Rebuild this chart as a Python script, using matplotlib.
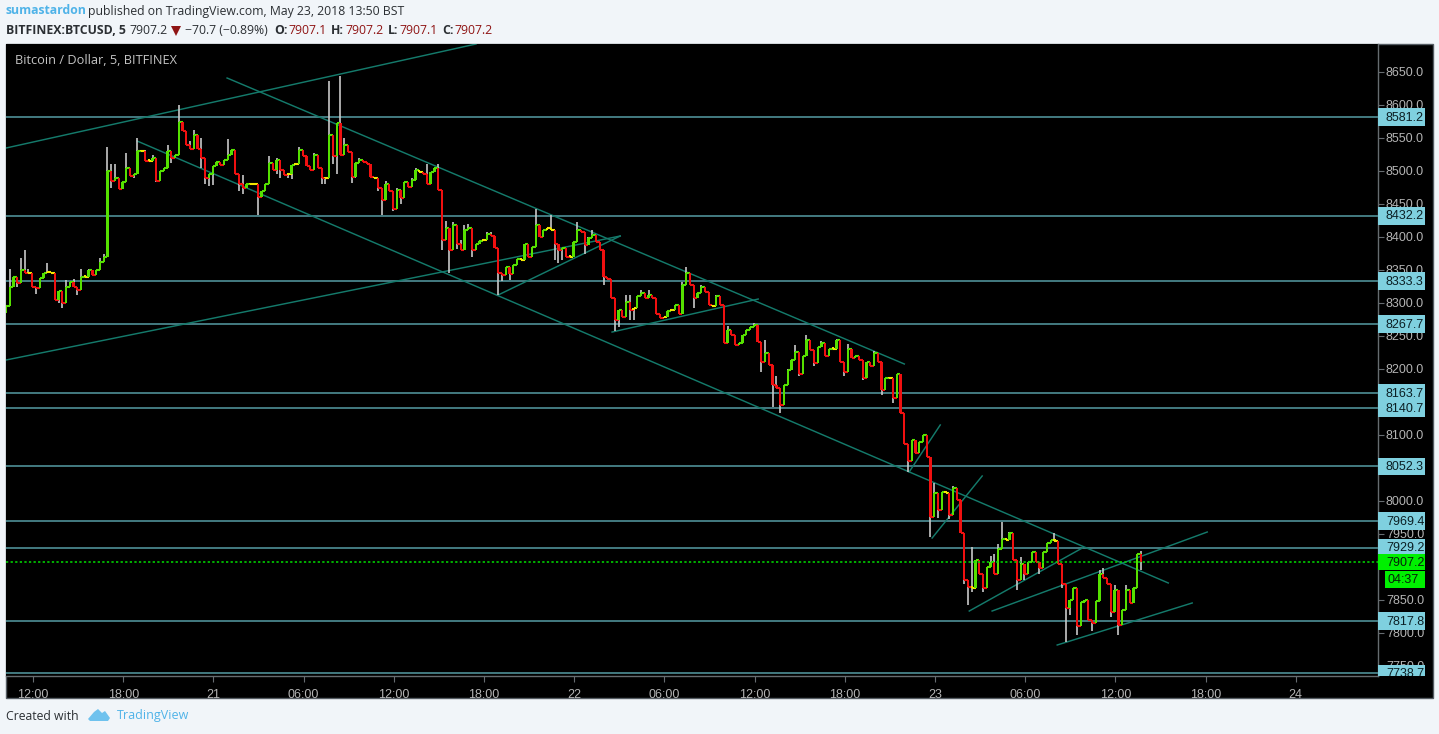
import matplotlib
matplotlib.use("Agg")
import matplotlib.pyplot as plt
import numpy as np
from matplotlib.patches import Rectangle, Polygon
from matplotlib.transforms import IdentityTransform, blended_transform_factory

W, H = 1439, 734

# precio de cierre cada 15 minutos
closes = [
    8296, 8325, 8340, 8330, 8350, 8345, 8345, 8325, 8322, 8338,
    8345, 8347, 8345, 8305, 8318, 8300, 8325, 8332, 8325, 8320,
    8340, 8340, 8350, 8342, 8350, 8362, 8370, 8500, 8485, 8490,
    8473, 8483, 8505, 8492, 8495, 8530, 8530, 8515, 8515, 8520,
    8485, 8500, 8505, 8530, 8520, 8525, 8575, 8560, 8540, 8534,
    8555, 8534, 8519, 8489, 8496, 8507, 8514, 8509, 8517, 8524,
    8532, 8496, 8481, 8474, 8480, 8481, 8480, 8460, 8469, 8481,
    8512, 8501, 8516, 8501, 8494, 8496, 8509, 8510, 8532, 8522,
    8507, 8501, 8524, 8504, 8489, 8489, 8555, 8522, 8572, 8525,
    8540, 8529, 8491, 8512, 8517, 8514, 8511, 8491, 8489, 8474,
    8456, 8481, 8469, 8443, 8471, 8459, 8484, 8476, 8486, 8501,
    8499, 8496, 8481, 8499, 8504, 8471, 8395, 8413, 8380, 8418,
    8390, 8380, 8410, 8413, 8380, 8390, 8394, 8395, 8405, 8401,
    8383, 8345, 8342, 8355, 8344, 8357, 8366, 8365, 8390, 8370,
    8385, 8418, 8400, 8411, 8413, 8411, 8390, 8380, 8383, 8370,
    8370, 8393, 8411, 8408, 8388, 8398, 8403, 8393, 8380, 8340,
    8337, 8307, 8274, 8290, 8279, 8302, 8290, 8292, 8310, 8315,
    8307, 8312, 8307, 8284, 8277, 8279, 8288, 8289, 8297, 8284,
    8327, 8345, 8327, 8307, 8315, 8325, 8317, 8297, 8295, 8311,
    8297, 8240, 8259, 8252, 8236, 8239, 8252, 8259, 8264, 8267,
    8241, 8211, 8224, 8206, 8176, 8171, 8145, 8176, 8198, 8214,
    8226, 8193, 8219, 8244, 8229, 8209, 8234, 8239, 8219, 8231,
    8231, 8244, 8211, 8196, 8231, 8216, 8219, 8214, 8186, 8211,
    8204, 8224, 8211, 8168, 8186, 8186, 8156, 8193, 8133, 8087,
    8060, 8092, 8072, 8090, 8100, 8067, 7976, 8012, 7986, 8014,
    8012, 7979, 8019, 8001, 7951, 7880, 7870, 7868, 7911, 7890,
    7868, 7900, 7908, 7890, 7928, 7943, 7941, 7951, 7911, 7880,
    7905, 7890, 7908, 7923, 7908, 7898, 7923, 7936, 7941, 7940,
    7905, 7875, 7838, 7850, 7868, 7810, 7847, 7850, 7820, 7815,
    7848, 7890, 7883, 7875, 7832, 7865, 7812, 7835, 7865, 7845,
    7868, 7919, 7907,
]
first_open = 8285
first_hour = -1.8  # horas desde el 20 de mayo 12:00
bar_hours = 0.25

# mechas visibles: indice de barra -> maximo / minimo
high_idx = [1, 4, 5, 6, 11, 16, 18, 20, 22, 25, 26, 27, 28, 29, 32, 35, 37, 39, 43, 46,
            49, 50, 52, 59, 63, 70, 72, 78, 82, 86, 89, 90, 94, 101, 104, 108, 109, 112, 115, 117,
            119, 121, 122, 123, 128, 129, 141, 145, 152, 155, 156, 165, 166, 169, 171, 180, 181, 185, 189, 192,
            199, 202, 205, 208, 210, 213, 217, 221, 224, 231, 247, 252, 257, 262, 263, 264, 265, 267, 270, 279,
            291, 292, 295, 298, 302]
high_val = [8352, 8368, 8380, 8352, 8360, 8335, 8337, 8352, 8352, 8368, 8374, 8537, 8511, 8511, 8527, 8550, 8532, 8525, 8540, 8600,
            8545, 8562, 8550, 8549, 8494, 8522, 8520, 8537, 8528, 8636, 8644, 8550, 8520, 8485, 8475, 8490, 8505, 8511, 8510, 8425,
            8423, 8395, 8418, 8420, 8408, 8408, 8443, 8433, 8423, 8400, 8410, 8312, 8312, 8320, 8320, 8332, 8355, 8327, 8312, 8265,
            8270, 8244, 8190, 8200, 8237, 8251, 8243, 8246, 8238, 8228, 8027, 8022, 7930, 7916, 7920, 7935, 7968, 7953, 7915, 7951,
            7895, 7898, 7872, 7872, 7925]
low_idx = [0, 3, 7, 8, 14, 15, 16, 19, 24, 25, 27, 28, 31, 34, 40, 44, 52, 53, 54, 55,
           62, 63, 67, 72, 73, 75, 76, 84, 85, 87, 88, 92, 93, 99, 100, 103, 105, 116, 118, 120,
           124, 131, 132, 134, 146, 147, 148, 154, 159, 162, 163, 166, 167, 183, 191, 201, 204, 206, 211, 215,
           223, 228, 233, 236, 240, 246, 248, 251, 255, 256, 257, 260, 269, 271, 275, 281, 282, 283, 285, 289,
           294, 296, 302]
low_val = [8287, 8325, 8327, 8313, 8300, 8292, 8318, 8312, 8345, 8352, 8467, 8474, 8472, 8490, 8483, 8512, 8505, 8480, 8477, 8479,
           8470, 8465, 8433, 8495, 8490, 8490, 8488, 8480, 8480, 8510, 8495, 8482, 8490, 8470, 8433, 8440, 8450, 8380, 8345, 8382,
           8370, 8312, 8334, 8335, 8365, 8360, 8365, 8375, 8327, 8257, 8264, 8275, 8275, 8292, 8239, 8196, 8143, 8133, 8190, 8205,
           8190, 8183, 8160, 8148, 8044, 7946, 7975, 7972, 7875, 7842, 7862, 7862, 7865, 7880, 7890, 7868, 7787, 7828, 7797, 7803,
           7825, 7797, 7895]

# niveles horizontales
levels = [8581.2, 8432.2, 8333.3, 8267.7, 8163.7, 8140.7, 8052.3, 7969.4, 7929.2, 7817.8, 7738.7]
last_price = 7907.2
countdown = "04:37"

# lineas de tendencia: horas y precios de cada extremo
trend_h0 = [-1.8, 12.91, 6.92, -1.8, 30.94, 38.52, 58.28, 59.81, 62.28, 63.80, 68.13]
trend_p0 = [8534.8, 8640.9, 8545.5, 8213.6, 8312.1, 8256.0, 8043.9, 7943.9, 7833.3, 7833.3, 7781.8]
trend_h1 = [29.47, 57.96, 75.52, 39.06, 39.06, 48.24, 60.35, 63.14, 69.80, 78.11, 77.11]
trend_p1 = [8692.4, 8207.6, 7875.8, 8401.5, 8401.5, 8306.0, 8115.2, 8037.9, 7928.8, 7953.0, 7845.5]

# 8150, 8050 y 7900 no se ven: quedan bajo las cajas de nivel
price_ticks = [8650, 8600, 8550, 8500, 8450, 8400, 8350, 8300, 8250, 8200, 8100,
               8000, 7950, 7850, 7800, 7750]
time_hours = [0, 6, 12, 18, 24, 30, 36, 42, 48, 54, 60, 66, 72, 78, 84]
time_labels = ["12:00", "18:00", "21", "06:00", "12:00", "18:00", "22", "06:00", "12:00", "18:00",
               "23", "06:00", "12:00", "18:00", "24"]


def fx(x):
    return x / W


def fy(y):
    return 1 - y / H


plt.rcParams["font.family"] = ["Liberation Sans", "DejaVu Sans"]
fig = plt.figure(figsize=(W / 100, H / 100), dpi=100, facecolor="#f1f5f9")

# marco negro completo (incluye la escala de precios)
frame = Rectangle((fx(6), fy(698)), 1427 / W, 654 / H, transform=fig.transFigure,
                  facecolor="black", edgecolor="#555c63", linewidth=1, zorder=-1)
fig.add_artist(frame)

# area de velas: px 6-1378 y 44-676
ax = fig.add_axes([fx(6), fy(676), 1372 / W, 632 / H], facecolor="black")
ax.set_xlim((6 - 33) / 15.033, (1378 - 33) / 15.033)
ax.set_ylim(8600 - 571 / 0.66, 8600 + 61 / 0.66)

c = np.array(closes, dtype=float)
o = np.r_[first_open, c[:-1]]
hours = first_hour + bar_hours * np.arange(len(c))
hi = np.maximum(o, c)
lo = np.minimum(o, c)
for i, v in zip(high_idx, high_val):
    hi[i] = max(hi[i], v)
for i, v in zip(low_idx, low_val):
    lo[i] = min(lo[i], v)

colors = ["#f2e600" if abs(a - b) <= 2 else ("#55e000" if b > a else "#f01010") for a, b in zip(o, c)]
ax.vlines(hours, lo, hi, color="#c8c8c8", linewidth=1.2, zorder=3)
bottoms = np.minimum(o, c)
heights = np.maximum(np.abs(c - o), 2.5)
ax.bar(hours, heights, width=0.15, bottom=bottoms, color=colors, linewidth=0, zorder=4)
# a esta escala las velas se tocan: el cierre enlaza con la barra siguiente
ax.hlines(c[:-1], hours[:-1], hours[1:], colors=colors[:-1], linewidth=1.5, zorder=3.5)

for lev in levels:
    ax.axhline(lev, color="#4f9097", linewidth=1.2, zorder=2)
ax.axhline(last_price, color="#00e000", linewidth=1.1, linestyle=(0, (1.5, 1.5)), zorder=5)
for h0, p0, h1, p1 in zip(trend_h0, trend_p0, trend_h1, trend_p1):
    ax.plot([h0, h1], [p0, p1], color="#147a6b", linewidth=1.05, zorder=2.5)

# ejes
for side in ["top", "left"]:
    ax.spines[side].set_visible(False)
for side in ["right", "bottom"]:
    ax.spines[side].set_color("#666c70")
    ax.spines[side].set_linewidth(1)
ax.yaxis.tick_right()
ax.set_yticks(price_ticks)
ax.set_yticklabels([])
ax.set_xticks(time_hours)
ax.set_xticklabels(time_labels, color="#b4b4b4", fontsize=9)
ax.tick_params(axis="x", color="#666c70", length=4, pad=5)
ax.tick_params(axis="y", color="#666c70", length=4)

# etiquetas de la escala, recortadas en el borde inferior
clip = Rectangle((1378, H - 676), W - 1378, 632, transform=IdentityTransform())
trans = blended_transform_factory(ax.transAxes, ax.transData)
label_x = 1 + 8 / 1372
for p in price_ticks:
    t = ax.text(label_x, p - 1, "%.1f" % p, transform=trans, color="#b4b4b4", fontsize=9, va="center", zorder=6)
    t.set_clip_path(clip)
    t.set_clip_on(True)
for lev in levels:
    box = Rectangle((1, lev - 13.5), 47 / 1372, 27, transform=trans, facecolor="#7fd0df",
                    edgecolor="none", zorder=7)
    ax.add_patch(box)
    box.set_clip_path(clip)
    t = ax.text(label_x, lev - 1, "%.1f" % lev, transform=trans, color="#0b1f24", fontsize=9, va="center", zorder=8)
    t.set_clip_path(clip)
    t.set_clip_on(True)
ax.add_patch(Rectangle((1, last_price - 12.5), 47 / 1372, 25, transform=trans, facecolor="#00f000",
                       edgecolor="none", clip_on=False, zorder=7))
ax.text(label_x, last_price - 1, "%.1f" % last_price, transform=trans, color="#06200a", fontsize=9,
        va="center", clip_on=False, zorder=8)
ax.add_patch(Rectangle((1 + 7 / 1372, last_price - 39), 40 / 1372, 25, transform=trans,
                       facecolor="#00f000", edgecolor="none", clip_on=False, zorder=7))
ax.text(label_x + 1 / 1372, last_price - 27.5, countdown, transform=trans, color="#06200a", fontsize=9,
        va="center", clip_on=False, zorder=8)

fig.text(fx(15), fy(60), "Bitcoin / Dollar, 5, BITFINEX", color="#c4c4c4", fontsize=9.2,
         family="Open Sans", va="center", zorder=10)

# cabecera
dark = "#2b2f33"
red = "#8f1414"
fig.text(fx(6), fy(11), "sumastardon", color="#4fb3e8", fontsize=8.8, weight="bold",
         family="Open Sans", va="center")
fig.text(fx(88), fy(11), "published on TradingView.com, May 23, 2018 13:50 BST", color=dark, fontsize=8.8,
         family="Open Sans", va="center")
row2 = [
    (6, "BITFINEX:BTCUSD, 5", dark, "bold"),
    (129, "7907.2", dark, "normal"),
    (185, "\u221270.7 (\u22120.89%)", dark, "normal"),
    (274, "O:", dark, "bold"),
    (288, "7907.1", red, "normal"),
    (331, "H:", dark, "bold"),
    (345, "7907.2", red, "normal"),
    (388, "L:", dark, "bold"),
    (399, "7907.1", red, "normal"),
    (442, "C:", dark, "bold"),
    (454, "7907.2", red, "normal"),
]
for x, s, col, wt in row2:
    fig.text(fx(x), fy(30), s, color=col, fontsize=8.8, weight=wt, family="Open Sans", va="center")
fig.add_artist(Polygon([(fx(171), fy(26)), (fx(181), fy(26)), (fx(176), fy(36))], closed=True,
                       transform=fig.transFigure, facecolor=red, edgecolor="none"))

# pie
fig.text(fx(6), fy(716), "Created with", color=dark, fontsize=8.8, family="Open Sans", va="center")
fig.text(fx(117), fy(716), "TradingView", color="#4fb3e8", fontsize=9, family="Open Sans", va="center")
logo = [(88, 719), (94, 712), (98, 709), (102, 713), (105, 711), (110, 718), (108, 721), (90, 721)]
fig.add_artist(Polygon([(fx(a), fy(b)) for a, b in logo], closed=True, transform=fig.transFigure,
                       facecolor="#6fc2ee", edgecolor="none"))

fig.savefig("out.png", dpi=100, facecolor=fig.get_facecolor())
